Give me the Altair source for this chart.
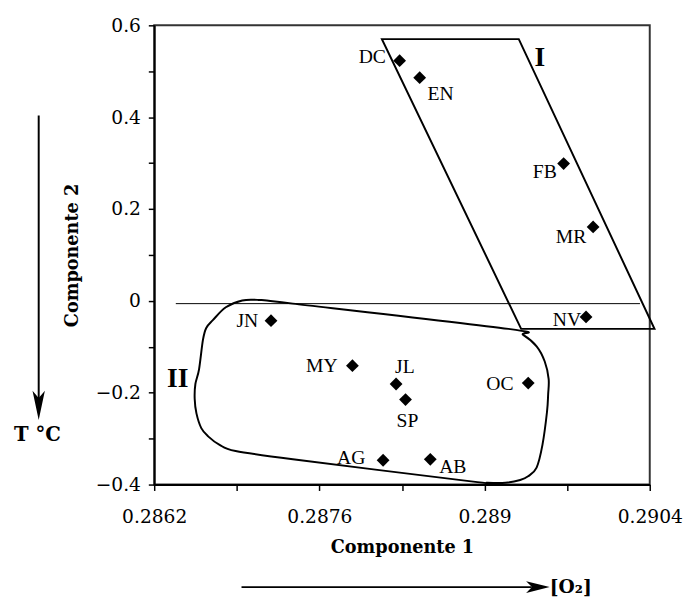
import altair as alt
import pandas as pd

# ---- data ----
months = ["DC", "EN", "FB", "MR", "NV", "JN", "MY", "JL", "SP", "OC", "AG", "AB"]
comp1 = [0.28828, 0.28845, 0.28967, 0.28992, 0.28986, 0.28719,
         0.28788, 0.28825, 0.28833, 0.28937, 0.28814, 0.28854]
comp2 = [0.523, 0.486, 0.299, 0.161, -0.035, -0.043,
         -0.141, -0.181, -0.215, -0.179, -0.347, -0.345]

# group I outline (parallelogram)
g1_x = [0.28813, 0.28929, 0.29044, 0.28931]
g1_y = [0.570, 0.570, -0.061, -0.061]

# group II outline (rounded shape)
g2_x = [0.286946, 0.287084, 0.287375, 0.289202, 0.289327, 0.289441, 0.289510,
        0.289543, 0.289539, 0.289529, 0.289491, 0.289441, 0.289369, 0.289302,
        0.289177, 0.289025, 0.288886, 0.287375, 0.286890, 0.286751, 0.286657,
        0.286599, 0.286558, 0.286543, 0.286549, 0.286580, 0.286613, 0.286641,
        0.286697, 0.286807]
g2_y = [0.001, 0.002, -0.006, -0.061, -0.074, -0.099, -0.132,
        -0.170, -0.203, -0.242, -0.313, -0.363, -0.382, -0.390,
        -0.396, -0.396, -0.393, -0.345, -0.327, -0.313, -0.295,
        -0.277, -0.245, -0.213, -0.181, -0.149, -0.085, -0.059,
        -0.042, -0.014]

zero_x = [0.286383, 0.290317]
zero_y = [-0.006]

group_names = ["I", "II"]
group_x = [0.289468, 0.2864]
group_y = [0.528, -0.1705]

# annotation arrows (data coordinates outside the plot area)
temp_arrow_x = [0.285221]
temp_arrow_y = [0.4034, -0.2175]
temp_head_y = [-0.2276]
temp_label = ["T °C"]
temp_label_xy = [0.28521, -0.2918]

o2_arrow_y = [-0.6233]
o2_arrow_x = [0.28694, 0.2894]
o2_head_x = [0.289452]
o2_label = ["[O₂]"]
o2_label_x = [0.289552]

x_ticks = [0.2862, 0.2869, 0.2876, 0.2883, 0.289, 0.2897, 0.2904]
y_ticks = [-0.4, -0.3, -0.2, -0.1, 0.0, 0.1, 0.2, 0.3, 0.4, 0.5, 0.6]

# ---- label placement (style) ----
label_place = {
    "DC": ("right", -14, -4), "EN": ("left", 8, 17), "FB": ("right", -7, 9),
    "MR": ("right", -7, 10), "NV": ("right", -5, 3), "JN": ("right", -13, 1),
    "MY": ("right", -15, 1), "JL": ("center", 9, -17), "SP": ("center", 2, 22),
    "OC": ("right", -15, 1), "AG": ("right", -18, -2), "AB": ("left", 9, 8),
}

pts = pd.DataFrame({"x": comp1, "y": comp2, "m": months})
g1 = pd.DataFrame({"x": g1_x, "y": g1_y, "i": list(range(len(g1_x)))})
g2 = pd.DataFrame({"x": g2_x, "y": g2_y, "i": list(range(len(g2_x)))})
zl = pd.DataFrame({"x": [zero_x[0]], "x2": [zero_x[1]], "y": zero_y})
gn = pd.DataFrame({"x": group_x, "y": group_y, "t": group_names})

xs = alt.Scale(domain=[0.2862, 0.2904], nice=False, zero=False)
ys = alt.Scale(domain=[-0.4, 0.6], nice=False, zero=False)

x_axis = alt.Axis(values=x_ticks, labelFlush=False,
                  labelExpr="round(datum.value*10000) % 14 == 6 ? format(datum.value, '.4~f') : ''",
                  labelPadding=18, titleY=69, titleBaseline="alphabetic")
y_axis = alt.Axis(values=y_ticks, labelFlush=False,
                  labelExpr="abs(round(datum.value*10)) % 2 == 0 ? format(datum.value, '~g') : ''",
                  labelPadding=8, titleX=-78, titleBaseline="alphabetic")

X = alt.X("x:Q", scale=xs, axis=x_axis, title="Componente 1")
Y = alt.Y("y:Q", scale=ys, axis=y_axis, title="Componente 2")

points = alt.Chart(pts).mark_point(shape="diamond", filled=True, size=170,
                                   color="black", opacity=1).encode(x=X, y=Y)

zero = alt.Chart(zl).mark_rule(color="black", strokeWidth=1).encode(
    x=X, x2="x2:Q", y=Y)

poly1 = alt.Chart(g1).mark_line(interpolate="linear-closed", color="black",
                                strokeWidth=2, strokeJoin="miter").encode(
    x=X, y=Y, order="i:Q")
poly2 = alt.Chart(g2).mark_line(interpolate="cardinal-closed", color="black",
                                strokeWidth=2).encode(x=X, y=Y, order="i:Q")

labels = []
for m in months:
    al, dx, dy = label_place[m]
    labels.append(
        alt.Chart(pts).transform_filter(alt.datum.m == m).mark_text(
            align=al, baseline="middle", dx=dx, dy=dy, font="Liberation Serif",
            fontSize=20, color="black").encode(x=X, y=Y, text="m:N"))

groups = alt.Chart(gn).mark_text(font="Liberation Serif", fontSize=28,
                                 fontWeight="bold", color="black",
                                 baseline="middle").encode(x=X, y=Y, text="t:N")

# temperature arrow
ta = pd.DataFrame({"x": temp_arrow_x, "y": [temp_arrow_y[0]], "y2": [temp_arrow_y[1]]})
th = pd.DataFrame({"x": temp_arrow_x, "y": temp_head_y})
tl = pd.DataFrame({"x": [temp_label_xy[0]], "y": [temp_label_xy[1]], "t": temp_label})
t_line = alt.Chart(ta).mark_rule(color="black", strokeWidth=2).encode(x=X, y=Y, y2="y2:Q")
t_head = alt.Chart(th).mark_point(shape="M0,1L-0.42,-1L0,-0.5L0.42,-1Z", size=900,
                                  filled=True, color="black", opacity=1,
                                  strokeWidth=0).encode(x=X, y=Y)
t_text = alt.Chart(tl).mark_text(font="DejaVu Serif", fontSize=20, fontWeight="bold",
                                 color="black", baseline="middle").encode(x=X, y=Y, text="t:N")

# oxygen arrow
oa = pd.DataFrame({"x": [o2_arrow_x[0]], "x2": [o2_arrow_x[1]], "y": o2_arrow_y})
oh = pd.DataFrame({"x": o2_head_x, "y": o2_arrow_y})
ol = pd.DataFrame({"x": o2_label_x, "y": o2_arrow_y, "t": o2_label})
o_line = alt.Chart(oa).mark_rule(color="black", strokeWidth=2).encode(x=X, x2="x2:Q", y=Y)
o_head = alt.Chart(oh).mark_point(shape="M1,0L-1,-0.5L-0.5,0L-1,0.5Z", size=576,
                                  filled=True, color="black", opacity=1,
                                  strokeWidth=0).encode(x=X, y=Y)
o_text = alt.Chart(ol).mark_text(font="DejaVu Serif", fontSize=19, fontWeight="bold",
                                 color="black", align="left", baseline="middle").encode(
    x=X, y=Y, text="t:N")

chart = alt.layer(points, zero, poly1, poly2, *labels, groups,
                  t_line, t_head, t_text, o_line, o_head, o_text).properties(
    width=505, height=468,
    autosize=alt.AutoSizeParams(type="none"),
    padding={"left": 149, "top": 12, "right": 40, "bottom": 114},
).configure_view(stroke="#333", strokeWidth=2).configure_axis(
    grid=False, domainColor="black", domainWidth=2, tickColor="black",
    tickWidth=1.5, tickSize=6, labelFont="DejaVu Serif", labelFontSize=19,
    labelColor="black", titleFont="DejaVu Serif", titleFontSize=18,
    titleFontWeight="bold", titleColor="black")

chart.save("out.html", embed_options={"renderer": "svg", "actions": False})
